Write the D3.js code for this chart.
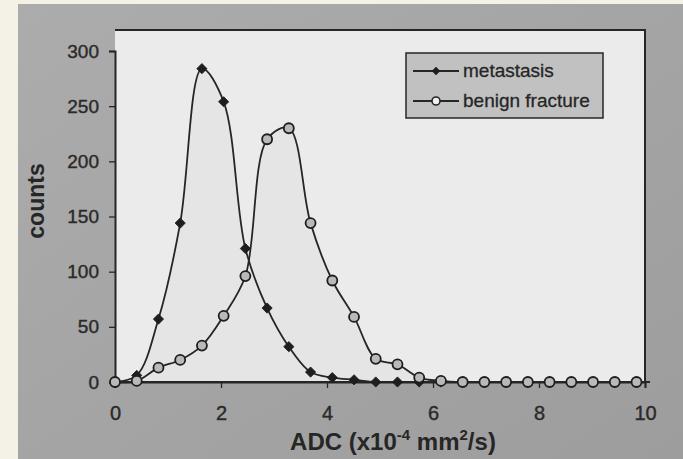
<!DOCTYPE html>
<html><head><meta charset="utf-8">
<script src="https://cdn.jsdelivr.net/npm/d3@7"></script>
<style>html,body{margin:0;padding:0;background:#f4f2e6;} svg{display:block;}</style>
</head><body>
<svg id="chart" width="683" height="459"></svg>
<script>
// ---- data ----
const adc = [0, 0.41, 0.82, 1.23, 1.64, 2.05, 2.46, 2.87, 3.28, 3.69, 4.10, 4.51, 4.92,
             5.33, 5.74, 6.15, 6.56, 6.97, 7.38, 7.79, 8.20, 8.61, 9.02, 9.43, 9.84];
const metastasis = [0, 6, 57, 144, 284, 254, 121, 67, 32, 9, 4, 2, 0,
                    0, 0, 0, 0, 0, 0, 0, 0, 0, 0, 0, 0];
const benignFracture = [0, 1, 13, 20, 33, 60, 96, 220, 230, 144, 92, 59, 21,
                        16, 4, 1, 0, 0, 0, 0, 0, 0, 0, 0, 0];
const seriesNames = ["metastasis", "benign fracture"];
const xTicks = [0, 2, 4, 6, 8, 10];
const yTicks = [0, 50, 100, 150, 200, 250, 300];
const xTitle = "ADC (x10";
const yTitle = "counts";

// ---- layout ----
const svg = d3.select("#chart");
const defs = svg.append("defs");
const grad = defs.append("linearGradient").attr("id", "bg").attr("x1", "0").attr("y1", "0").attr("x2", "1").attr("y2", "1");
grad.append("stop").attr("offset", "0").attr("stop-color", "#acacac");
grad.append("stop").attr("offset", "1").attr("stop-color", "#9d9d9d");

svg.append("rect").attr("x", 18).attr("y", 4).attr("width", 665).attr("height", 455).attr("fill", "url(#bg)");

const L = 115, R = 645, T = 30, B = 382;
const x = d3.scaleLinear().domain([0, 10]).range([L, R]);
const y = d3.scaleLinear().domain([0, 300]).range([B, 51]);

svg.append("rect").attr("x", L).attr("y", T).attr("width", R - L).attr("height", B - T).attr("fill", "#ebebeb");

const ink = "#262626";
const font = "'Liberation Sans', Arial, sans-serif";

// area fills (faint)
const curve = d3.curveCatmullRom.alpha(0.5);
const area = d3.area().x((d, i) => x(adc[i])).y0(y(0)).y1(d => y(d)).curve(curve);
const line = d3.line().x((d, i) => x(adc[i])).y(d => y(d)).curve(curve);
svg.append("path").datum(benignFracture).attr("d", area).attr("fill", "#e5e5e5");
svg.append("path").datum(metastasis).attr("d", area).attr("fill", "#e5e5e5");

// frame top/right
svg.append("path").attr("d", `M${L},${T}H${R}V${B}`).attr("fill", "none").attr("stroke", ink).attr("stroke-width", 2);

// axes
const yAxis = svg.append("g").attr("transform", `translate(${L},0)`)
  .call(d3.axisLeft(y).tickValues(yTicks).tickSize(6).tickPadding(10));
const xAxis = svg.append("g").attr("transform", `translate(0,${B})`)
  .call(d3.axisBottom(x).tickValues(xTicks).tickSize(6).tickPadding(18));
[yAxis, xAxis].forEach(g => {
  g.select(".domain").attr("stroke", ink).attr("stroke-width", 2);
  g.selectAll(".tick line").attr("stroke", ink).attr("stroke-width", 1.3);
  g.selectAll(".tick text").attr("fill", "#2a2a2a").attr("stroke", "#2a2a2a").attr("stroke-width", 0.4)
    .style("font-family", font);
});
yAxis.selectAll(".tick text").style("font-size", "19px");
xAxis.selectAll(".tick text").style("font-size", "20px");
// extend x axis line slightly past right border
svg.append("line").attr("x1", L).attr("x2", R + 5).attr("y1", B).attr("y2", B).attr("stroke", ink).attr("stroke-width", 2);

// lines
svg.append("path").datum(benignFracture).attr("d", line).attr("fill", "none").attr("stroke", ink).attr("stroke-width", 1.8);
svg.append("path").datum(metastasis).attr("d", line).attr("fill", "none").attr("stroke", ink).attr("stroke-width", 1.8);

// markers
const diamond = d3.symbol().type(d3.symbolSquare).size(52);
svg.append("g").selectAll("path").data(metastasis).join("path")
  .attr("d", diamond)
  .attr("transform", (d, i) => `translate(${x(adc[i])},${y(d)}) rotate(45)`)
  .attr("fill", "#1e1e1e").attr("stroke", "#1e1e1e").attr("stroke-width", 0.8);
svg.append("g").selectAll("circle").data(benignFracture).join("circle")
  .attr("cx", (d, i) => x(adc[i])).attr("cy", d => y(d)).attr("r", 5)
  .attr("fill", "#b9b9b9").attr("stroke", "#1e1e1e").attr("stroke-width", 1.8);

// axis titles
const xt = svg.append("text").attr("x", 393).attr("y", 450).attr("text-anchor", "middle")
  .attr("fill", "#262626").style("font-family", font).style("font-size", "24px").style("font-weight", "bold");
xt.append("tspan").text(xTitle);
xt.append("tspan").attr("dy", -10).style("font-size", "15px").text("-4");
xt.append("tspan").attr("dy", 10).text(" mm");
xt.append("tspan").attr("dy", -10).style("font-size", "15px").text("2");
xt.append("tspan").attr("dy", 10).text("/s)");

svg.append("text").attr("transform", "translate(44,201) rotate(-90)").attr("text-anchor", "middle")
  .attr("fill", "#262626").style("font-family", font).style("font-size", "23px").style("font-weight", "bold")
  .text(yTitle);

// legend
const lg = svg.append("g");
lg.append("rect").attr("x", 406).attr("y", 53).attr("width", 197).attr("height", 65)
  .attr("fill", "#c1c1c1").attr("stroke", ink).attr("stroke-width", 1.5);
const rows = [71, 101];
seriesNames.forEach((name, k) => {
  const yy = rows[k];
  lg.append("line").attr("x1", 413).attr("x2", 459).attr("y1", yy).attr("y2", yy).attr("stroke", ink).attr("stroke-width", 1.8);
  if (k === 0) {
    lg.append("path").attr("d", d3.symbol().type(d3.symbolSquare).size(36)).attr("transform", `translate(436,${yy}) rotate(45)`).attr("fill", "#1e1e1e");
  } else {
    lg.append("circle").attr("cx", 436).attr("cy", yy).attr("r", 4).attr("fill", "#efefef").attr("stroke", ink).attr("stroke-width", 1.6);
  }
  lg.append("text").attr("x", 463).attr("y", yy + 6).attr("fill", "#262626").attr("stroke", "#262626").attr("stroke-width", 0.3)
    .style("font-family", font).style("font-size", "19px").text(name);
});
</script>
</body></html>
